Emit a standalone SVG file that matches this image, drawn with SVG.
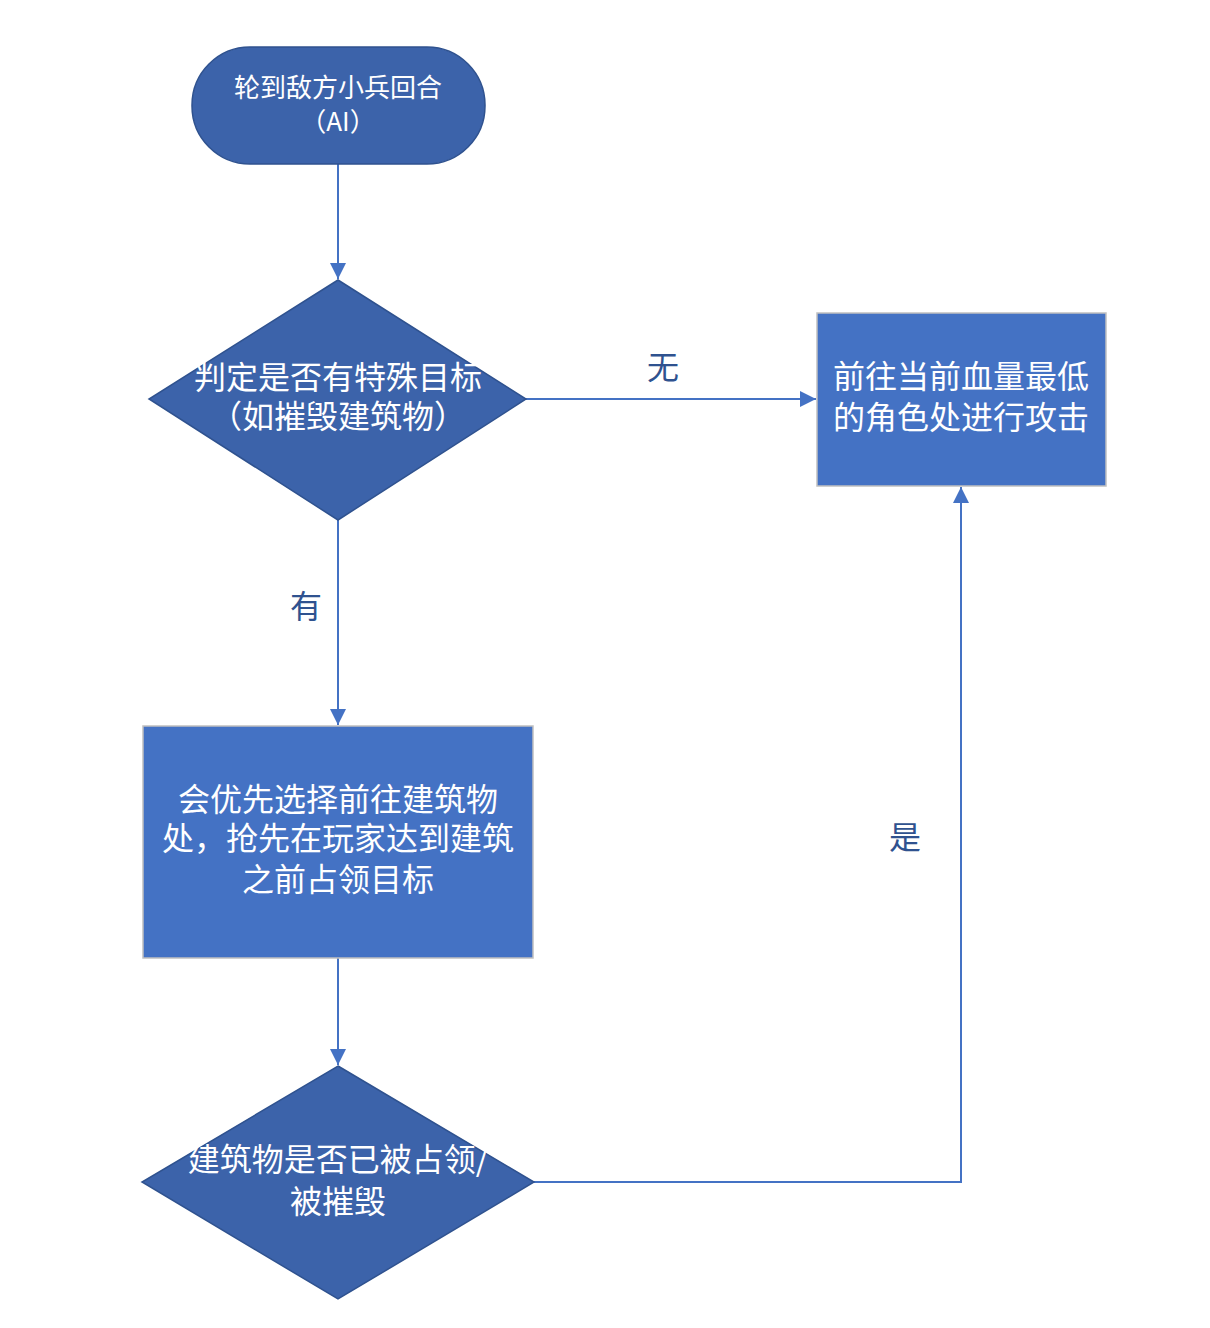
<svg xmlns="http://www.w3.org/2000/svg" width="1210" height="1328" viewBox="0 0 1210 1328">
<style>
.dark{fill:#3c63aa;stroke:#2f528f;stroke-width:1.5}
.box{fill:#4472c4;stroke:#c0c0c0;stroke-width:1.5}
.t{font-family:"Noto Sans CJK SC","Liberation Sans",sans-serif;fill:#ffffff;text-anchor:middle;dominant-baseline:central}
.lbl{font-family:"Noto Sans CJK SC","Liberation Sans",sans-serif;fill:#2f528f;font-size:32px;text-anchor:middle;dominant-baseline:central}
.ln{fill:none;stroke:#4472c4;stroke-width:2}
</style>
<defs>
<marker id="ah" viewBox="0 0 10 10" refX="10" refY="5" markerWidth="16" markerHeight="16" markerUnits="userSpaceOnUse" orient="auto">
<path d="M0,0 L10,5 L0,10 z" fill="#4472c4"/>
</marker>
</defs>
<rect width="1210" height="1328" fill="#ffffff"/>
<g id="connectors">
<line class="ln" x1="338" y1="164" x2="338" y2="279" marker-end="url(#ah)"/>
<line class="ln" x1="526" y1="399" x2="816" y2="399" marker-end="url(#ah)"/>
<line class="ln" x1="338" y1="520" x2="338" y2="725" marker-end="url(#ah)"/>
<line class="ln" x1="338" y1="958" x2="338" y2="1065" marker-end="url(#ah)"/>
<polyline class="ln" points="534,1182 961,1182 961,487" marker-end="url(#ah)"/>
<text class="lbl" x="663" y="365">无</text>
<text class="lbl" x="306" y="604">有</text>
<text class="lbl" x="905" y="835">是</text>
</g>
<g id="start">
<rect class="dark" x="192" y="47" width="293" height="117" rx="58" ry="58"/>
<text class="t" x="338" y="85" font-size="26">轮到敌方小兵回合</text>
<text class="t" x="338" y="119" font-size="26">（AI）</text>
</g>
<g id="decision1">
<polygon class="dark" points="338,280 526,399 338,520 149,399"/>
<text class="t" x="338" y="375" font-size="32">判定是否有特殊目标</text>
<text class="t" x="338" y="414" font-size="32">（如摧毁建筑物）</text>
</g>
<g id="attack">
<rect class="box" x="817" y="313" width="289" height="173"/>
<text class="t" x="961" y="374" font-size="32">前往当前血量最低</text>
<text class="t" x="961" y="415" font-size="32">的角色处进行攻击</text>
</g>
<g id="occupy">
<rect class="box" x="143" y="726" width="390" height="232"/>
<text class="t" x="338" y="797" font-size="32">会优先选择前往建筑物</text>
<text class="t" x="338" y="836" font-size="32">处，抢先在玩家达到建筑</text>
<text class="t" x="338" y="877" font-size="32">之前占领目标</text>
</g>
<g id="decision2">
<polygon class="dark" points="338,1066 534,1182 338,1299 142,1182"/>
<text class="t" x="338" y="1157" font-size="32">建筑物是否已被占领/</text>
<text class="t" x="338" y="1199" font-size="32">被摧毁</text>
</g>
</svg>
